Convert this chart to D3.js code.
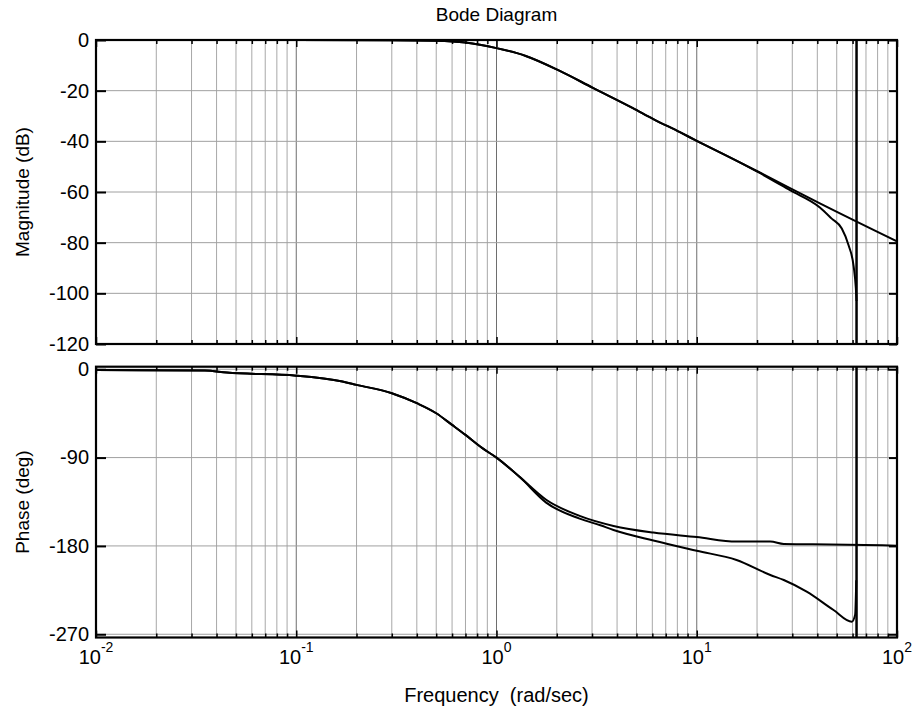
<!DOCTYPE html>
<html>
<head>
<meta charset="utf-8">
<script src="https://cdn.jsdelivr.net/npm/d3@7"></script>
<style>
  body { margin: 0; background: #fff; }
  text { font-family: "Liberation Sans", Arial, sans-serif; fill: #000; }
</style>
</head>
<body>
<div id="bode-chart"></div>
<script>
// continuous system, magnitude (dB)
const magFreqA = [0.01, 0.1, 0.3, 0.5, 0.7, 1, 1.4, 2.07, 3.03, 4.8, 6.07, 8.24, 10, 16.4, 20.3, 41.2, 100];
const magA = [0, 0, -0.1, -0.3, -1.0, -3.2, -6.3, -12.2, -18.9, -26.9, -31.2, -36.4, -39.8, -48.3, -52, -64.5, -79.5];
// discrete system, magnitude (dB), ends at Nyquist
const magFreqB = [0.01, 0.1, 0.3, 0.5, 0.7, 1, 1.4, 2.07, 3.03, 4.8, 6.07, 8.24, 10, 16.4, 20.3, 29.2, 41.2, 47.2, 53, 57.3, 60.8, 62.3, 62.8];
const magB = [0, 0, -0.1, -0.3, -1.0, -3.2, -6.3, -12.2, -18.9, -26.9, -31.2, -36.4, -39.8, -48.3, -52.2, -59.3, -66.1, -70.5, -74.4, -81, -89.6, -98, -103];
// phase (deg)
const phaseFreqA = [0.01, 0.035, 0.045, 0.1, 0.17, 0.2, 0.3, 0.4, 0.5, 0.6, 0.7, 0.85, 1, 1.3, 1.77, 2.6, 3.84, 6.07, 10, 15.8, 23.3, 27.2, 38, 100];
const phaseA = [-0.8, -1.2, -3.4, -6.5, -12.5, -15.9, -24.4, -34.6, -44.8, -56.7, -66.9, -80.4, -90, -109.4, -133, -149.4, -159.6, -166.4, -171, -175.6, -175.6, -178, -178.3, -179.7];
const phaseFreqB = [0.01, 0.035, 0.045, 0.1, 0.17, 0.2, 0.3, 0.4, 0.5, 0.6, 0.7, 0.85, 1, 1.3, 1.77, 2.6, 3.3, 3.84, 6.07, 10, 15.8, 23.3, 27.2, 35.4, 48.2, 59.5, 61.8, 62.6];
const phaseB = [-0.8, -1.2, -3.4, -6.5, -12.5, -15.9, -24.4, -34.6, -44.8, -56.7, -66.9, -80.4, -90, -109.4, -135.9, -152.2, -159, -163.7, -174.5, -185, -194.3, -209.6, -214.7, -226.6, -245.3, -257.2, -250, -215];

const nyquist = 62.8;
const magTicks = [0, -20, -40, -60, -80, -100, -120];
const phaseTicks = [0, -90, -180, -270];
const decades = [-2, -1, 0, 1, 2];

const width = 914, height = 714;
const left = 96, right = 897;
const magPanel = { top: 40, bottom: 344 };
const phasePanel = { top: 366.7, bottom: 637.5 };

const svg = d3.select("#bode-chart")
  .append("svg")
  .attr("width", width)
  .attr("height", height);

const x = d3.scaleLog().domain([0.01, 100]).range([left, right]);
const magY = d3.scaleLinear().domain([-120, 0]).range([magPanel.bottom, magPanel.top]);
const phaseY = d3.scaleLinear().domain([-273.3, 2.6]).range([phasePanel.bottom, phasePanel.top]);

// every 1..9 x decade position for the log grid
const minorTicks = [];
decades.slice(0, -1).forEach(d => {
  for (let m = 2; m <= 9; m++) minorTicks.push(m * Math.pow(10, d));
});
const majorTicks = decades.map(d => Math.pow(10, d));

function drawPanel(panel, yScale, yTicks, id, curves) {
  svg.append("defs").append("clipPath").attr("id", id)
    .append("rect")
    .attr("x", left).attr("y", panel.top)
    .attr("width", right - left).attr("height", panel.bottom - panel.top);

  // grid
  svg.append("g").selectAll("line").data(minorTicks).join("line")
    .attr("x1", d => x(d)).attr("x2", d => x(d))
    .attr("y1", panel.top).attr("y2", panel.bottom)
    .attr("stroke", "#a8a8a8").attr("stroke-width", 1);
  svg.append("g").selectAll("line").data(majorTicks).join("line")
    .attr("x1", d => x(d)).attr("x2", d => x(d))
    .attr("y1", panel.top).attr("y2", panel.bottom)
    .attr("stroke", "#6e6e6e").attr("stroke-width", 1);
  svg.append("g").selectAll("line").data(yTicks).join("line")
    .attr("x1", left).attr("x2", right)
    .attr("y1", d => yScale(d)).attr("y2", d => yScale(d))
    .attr("stroke", "#a0a0a0").attr("stroke-width", 1);

  // curves
  const g = svg.append("g").attr("clip-path", `url(#${id})`);
  curves.forEach(c => {
    const line = d3.line()
      .x((d, i) => x(c.freq[i]))
      .y(d => yScale(d))
      .curve(d3.curveMonotoneX);
    g.append("path")
      .attr("d", line(c.values))
      .attr("fill", "none")
      .attr("stroke", "#000")
      .attr("stroke-width", 2);
  });

  // Nyquist frequency marker
  g.append("line")
    .attr("x1", x(nyquist)).attr("x2", x(nyquist))
    .attr("y1", panel.top).attr("y2", panel.bottom)
    .attr("stroke", "#000").attr("stroke-width", 2.5);

  // y axes, ticks pointing inward
  const yl = svg.append("g")
    .attr("transform", `translate(${left},0)`)
    .call(d3.axisLeft(yScale).tickValues(yTicks).tickSizeInner(-10).tickSizeOuter(0).tickPadding(7)
      .tickFormat(d => String(d)));
  yl.selectAll("text").style("font-size", "20px").style("font-family", "'Liberation Sans', Arial, sans-serif");
  const yr = svg.append("g")
    .attr("transform", `translate(${right},0)`)
    .call(d3.axisRight(yScale).tickValues(yTicks).tickSizeInner(-8).tickSizeOuter(0).tickFormat(""));
  [yl, yr].forEach(a => {
    a.select(".domain").remove();
    a.selectAll("line").attr("stroke-width", 2);
  });

  // x ticks at top and bottom, inward
  [[d3.axisBottom, panel.bottom], [d3.axisTop, panel.top]].forEach(([axisFn, yPos]) => {
    const minor = svg.append("g").attr("transform", `translate(0,${yPos})`)
      .call(axisFn(x).tickValues(minorTicks).tickSizeInner(-4).tickSizeOuter(0).tickFormat(""));
    const major = svg.append("g").attr("transform", `translate(0,${yPos})`)
      .call(axisFn(x).tickValues(majorTicks).tickSizeInner(-7).tickSizeOuter(0).tickFormat(""));
    [minor, major].forEach(a => {
      a.select(".domain").remove();
      a.selectAll("line").attr("stroke-width", 1.5);
    });
  });

  // box
  svg.append("rect")
    .attr("x", left).attr("y", panel.top)
    .attr("width", right - left).attr("height", panel.bottom - panel.top)
    .attr("fill", "none").attr("stroke", "#000").attr("stroke-width", 2.2);
}

drawPanel(magPanel, magY, magTicks, "clip-mag", [
  { freq: magFreqA, values: magA },
  { freq: magFreqB, values: magB }
]);
drawPanel(phasePanel, phaseY, phaseTicks, "clip-phase", [
  { freq: phaseFreqA, values: phaseA },
  { freq: phaseFreqB, values: phaseB }
]);

// decade labels 10^n
decades.forEach(d => {
  const t = svg.append("text")
    .attr("x", x(Math.pow(10, d)))
    .attr("y", 664)
    .attr("text-anchor", "middle")
    .style("font-size", "20px");
  t.append("tspan").text("10");
  t.append("tspan").attr("dy", -12).style("font-size", "14px").text(d);
});

svg.append("text")
  .attr("x", (left + right) / 2)
  .attr("y", 21)
  .attr("text-anchor", "middle")
  .style("font-size", "19px")
  .text("Bode Diagram");

svg.append("text")
  .attr("x", (left + right) / 2)
  .attr("y", 702)
  .attr("text-anchor", "middle")
  .style("font-size", "20px")
  .attr("xml:space", "preserve")
  .text("Frequency  (rad/sec)");

svg.append("text")
  .attr("transform", `translate(29,${(magPanel.top + magPanel.bottom) / 2}) rotate(-90)`)
  .attr("text-anchor", "middle")
  .style("font-size", "19px")
  .text("Magnitude (dB)");

svg.append("text")
  .attr("transform", `translate(29,${(phasePanel.top + phasePanel.bottom) / 2}) rotate(-90)`)
  .attr("text-anchor", "middle")
  .style("font-size", "19px")
  .text("Phase (deg)");
</script>
</body>
</html>
